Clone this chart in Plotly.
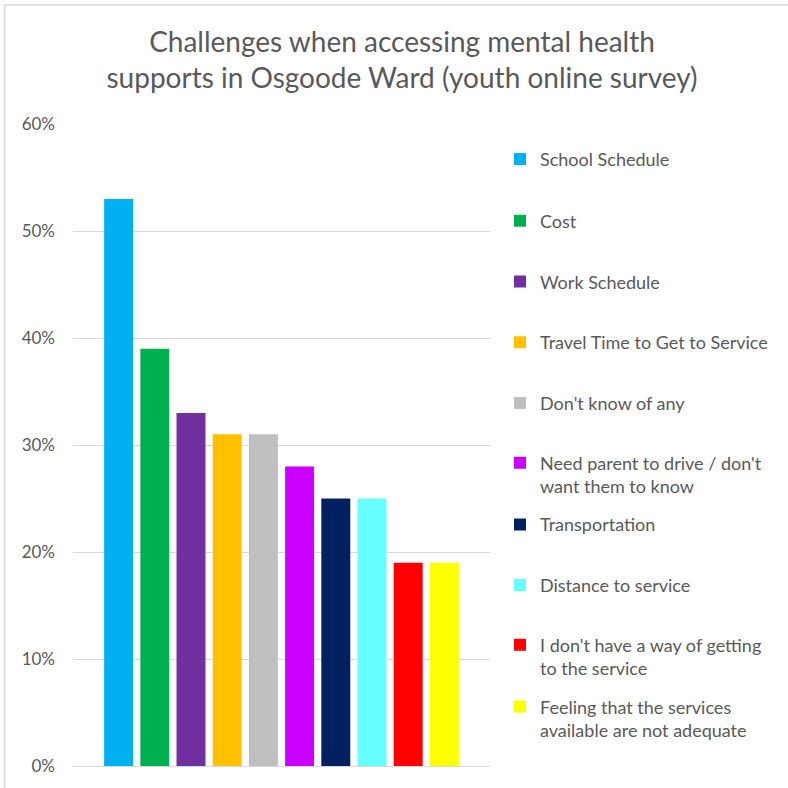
import plotly.graph_objects as go

categories = [
    "School Schedule",
    "Cost",
    "Work Schedule",
    "Travel Time to Get to Service",
    "Don't know of any",
    "Need parent to drive / don't<br>want them to know",
    "Transportation",
    "Distance to service",
    "I don't have a way of getting<br>to the service",
    "Feeling that the services<br>available are not adequate",
]
values = [0.53, 0.39, 0.33, 0.31, 0.31, 0.28, 0.25, 0.25, 0.19, 0.19]
colors = ["#00B0F0", "#00B050", "#7030A0", "#FFC000", "#BFBFBF",
          "#CC00FF", "#002060", "#66FFFF", "#FF0000", "#FFFF00"]
y_ticks = [0, 0.1, 0.2, 0.3, 0.4, 0.5, 0.6]
y_ticklabels = ["0%", "10%", "20%", "30%", "40%", "50%", "60%"]

FONT = "Lato"
TXT = "#595959"

# plot area in pixels
L, R, T, B = 73, 490, 124, 769
W, H = 788, 788

def px_to_paper_x(px):
    return (px - L) / (R - L)

def px_to_paper_y(py):
    return (B - py) / (B - T)

fig = go.Figure()
legend_first_line = [159, 221, 282, 343, 404, 464, 526, 587, 647, 709]
layout_legends = {}
for i, (name, v, c) in enumerate(zip(categories, values, colors)):
    lname = "legend" if i == 0 else f"legend{i+1}"
    fig.add_trace(go.Bar(
        x=[""], y=[v], name=name, marker=dict(color=c, line=dict(width=0)),
        legend=lname, hoverinfo="name+y",
    ))
    layout_legends[lname] = dict(
        x=px_to_paper_x(500), xanchor="left",
        y=px_to_paper_y(legend_first_line[i] - 18), yanchor="top",
        font=dict(family=FONT, size=18, color=TXT),
        bgcolor="rgba(0,0,0,0)", valign="top",
    )

fig.update_layout(
    width=W, height=H,
    margin=dict(l=L, r=W - R, t=T, b=H - B, pad=0),
    paper_bgcolor="white", plot_bgcolor="white",
    barmode="group", bargap=0.132, bargroupgap=0.2,
    title=dict(
        text="Challenges when accessing mental health<br>supports in Osgoode Ward (youth online survey)",
        x=402 / W, xanchor="center", xref="container", y=1 - 52 / H, yanchor="middle",
        font=dict(family=FONT, size=28, color=TXT),
    ),
    xaxis=dict(showticklabels=False, showgrid=False, zeroline=False, showline=False),
    yaxis=dict(
        range=[0, 0.6], tickvals=y_ticks, ticktext=y_ticklabels,
        showgrid=True, gridcolor="#D9D9D9", gridwidth=1.3,
        zeroline=True, zerolinecolor="#D9D9D9", zerolinewidth=1.3,
        showline=False, ticks="", ticklabelstandoff=17,
        tickfont=dict(family=FONT, size=17, color=TXT),
    ),
    showlegend=True,
    **layout_legends,
)

# outer chart border (top and left visible)
fig.add_shape(type="line", xref="paper", yref="paper",
              x0=px_to_paper_x(4.5), x1=px_to_paper_x(800),
              y0=px_to_paper_y(4.5), y1=px_to_paper_y(4.5),
              line=dict(color="#D9D9D9", width=1.5))
fig.add_shape(type="line", xref="paper", yref="paper",
              x0=px_to_paper_x(4.5), x1=px_to_paper_x(4.5),
              y0=px_to_paper_y(4.5), y1=px_to_paper_y(800),
              line=dict(color="#D9D9D9", width=1.5))

fig.write_html("out.html")
